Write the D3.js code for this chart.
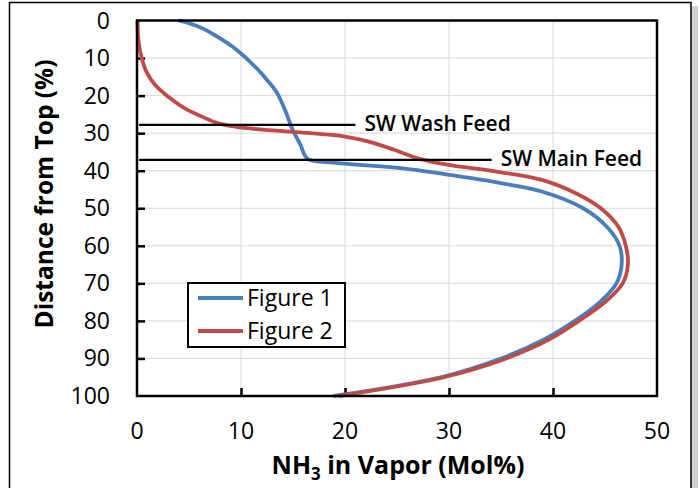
<!DOCTYPE html>
<html>
<head>
<meta charset="utf-8">
<script src="https://cdnjs.cloudflare.com/ajax/libs/d3/7.8.5/d3.min.js"></script>
<style>
  body { margin: 0; background: #fff; }
  text { font-family: "Open Sans", sans-serif; fill: #000; }
</style>
</head>
<body>
<svg id="chart" width="699" height="488"></svg>
<script>
  // NH3 in vapor (mol%) vs distance from top (%)
  const fig1Nh3 = [4.0, 5.2, 6.3, 7.3, 8.3, 9.2, 10.0, 10.8, 11.6, 12.4, 13.4, 14.3, 14.9, 15.7, 16.4, 19.1, 25.4, 30.0, 35.0, 39.0, 42.9, 45.2, 46.4, 46.6, 46.1, 44.5, 42.1, 39.1, 35.0, 29.2, 18.9];
  const fig1Dist = [0, 0.9, 2.1, 3.6, 5.3, 7.0, 8.8, 10.8, 13.0, 15.5, 19, 24.3, 28.7, 33, 36.8, 37.9, 39.3, 41.1, 43.3, 45.6, 50, 55, 60, 65, 70, 75, 80, 85, 90, 95, 100];

  const fig2Nh3 = [0.05, 0.15, 0.45, 0.9, 1.75, 3.0, 4.6, 6.25, 7.85, 9.5, 12.7, 15.7, 20.0, 22.2, 24.8, 27.0, 30.1, 33.5, 39.0, 42.2, 44.6, 46.3, 47.0, 47.2, 46.7, 45.0, 42.5, 39.6, 35.5, 29.5, 19.4];
  const fig2Dist = [0, 5.6, 10, 13.6, 17.2, 20.3, 23.4, 25.6, 27.4, 28.3, 29.2, 29.8, 30.9, 32.2, 34.5, 36.7, 38.5, 39.8, 42.5, 46, 50, 55, 60, 65, 70, 75, 80, 85, 90, 95, 100];

  const seriesNames = ["Figure 1", "Figure 2"];
  const seriesColors = ["#4a7ebb", "#be4b48"];

  const feedNames = ["SW Wash Feed", "SW Main Feed"];
  const feedDist = [27.8, 37.1];
  const feedEnd = [21.0, 34.1];

  const xTicks = [0, 10, 20, 30, 40, 50];
  const yTicks = [0, 10, 20, 30, 40, 50, 60, 70, 80, 90, 100];

  const svg = d3.select('#chart');

  // outer frame with a small shadow on the right
  svg.append('rect').attr('x', 691).attr('y', 6).attr('width', 7).attr('height', 490).attr('fill', '#d0d0d0');
  svg.append('rect').attr('x', 9.5).attr('y', 2.5).attr('width', 681.5).attr('height', 500)
    .attr('fill', '#fff').attr('stroke', '#000').attr('stroke-width', 1.5);

  const x = d3.scaleLinear().domain([0, 50]).range([137, 657]);
  const y = d3.scaleLinear().domain([0, 100]).range([20.5, 396]);

  // grid
  svg.append('g').selectAll('line').data(xTicks.slice(1, -1)).enter().append('line')
    .attr('x1', d => x(d)).attr('x2', d => x(d)).attr('y1', y(0)).attr('y2', y(100))
    .attr('stroke', '#d9d9d9').attr('stroke-width', 1);
  svg.append('g').selectAll('line').data(yTicks.slice(1, -1)).enter().append('line')
    .attr('x1', x(0)).attr('x2', x(50)).attr('y1', d => y(d)).attr('y2', d => y(d))
    .attr('stroke', '#d9d9d9').attr('stroke-width', 1);

  // axes (ticks inside)
  const xAxis = svg.append('g').attr('transform', `translate(0,${y(100)})`)
    .call(d3.axisTop(x).tickValues(xTicks.slice(1, -1)).tickSize(8).tickFormat(''));
  const yAxis = svg.append('g').attr('transform', `translate(${x(0)},0)`)
    .call(d3.axisRight(y).tickValues(yTicks.slice(1, -1)).tickSize(8).tickFormat(''));
  [xAxis, yAxis].forEach(a => {
    a.select('.domain').remove();
    a.selectAll('line').attr('stroke', '#000').attr('stroke-width', 2.5);
  });

  // tick labels
  svg.append('g').selectAll('text').data(xTicks).enter().append('text')
    .attr('x', d => x(d)).attr('y', 439).attr('text-anchor', 'middle')
    .style('font-size', '23px').style('font-weight', 500).text(d => d);
  svg.append('g').selectAll('text').data(yTicks).enter().append('text')
    .attr('x', 110).attr('y', d => y(d) + 8).attr('text-anchor', 'end')
    .style('font-size', '23px').style('font-weight', 500).text(d => d);

  // series
  const line = d3.line().curve(d3.curveCatmullRom.alpha(0.5)).x(d => x(d[0])).y(d => y(d[1]));
  const series = [
    d3.zip(fig1Nh3, fig1Dist),
    d3.zip(fig2Nh3, fig2Dist)
  ];
  svg.append('g').selectAll('path').data(series).enter().append('path')
    .attr('d', line).attr('fill', 'none')
    .attr('stroke', (d, i) => seriesColors[i]).attr('stroke-width', 3.8)
    .attr('stroke-linejoin', 'round');

  // feed markers
  feedNames.forEach((name, i) => {
    svg.append('line').attr('x1', x(0.2)).attr('x2', x(feedEnd[i]))
      .attr('y1', y(feedDist[i])).attr('y2', y(feedDist[i]))
      .attr('stroke', '#000').attr('stroke-width', 2.2);
    svg.append('text').attr('x', x(feedEnd[i]) + 9).attr('y', y(feedDist[i]) + 6)
      .style('font-size', '21px').style('font-weight', 600).text(name);
  });

  // plot border
  svg.append('rect').attr('x', x(0)).attr('y', y(0)).attr('width', x(50) - x(0)).attr('height', y(100) - y(0))
    .attr('fill', 'none').attr('stroke', '#000').attr('stroke-width', 2.5);

  // legend
  const lg = svg.append('g').attr('transform', 'translate(188,283)');
  lg.append('rect').attr('width', 157).attr('height', 64).attr('fill', '#fff')
    .attr('stroke', '#000').attr('stroke-width', 2);
  seriesNames.forEach((n, i) => {
    const yy = 15 + i * 33;
    lg.append('line').attr('x1', 10).attr('x2', 55).attr('y1', yy).attr('y2', yy)
      .attr('stroke', seriesColors[i]).attr('stroke-width', 4);
    lg.append('text').attr('x', 59).attr('y', yy + 8).style('font-size', '23px')
      .style('font-weight', 500).text(n);
  });

  // axis titles
  svg.append('text').attr('transform', 'translate(53,194) rotate(-90)')
    .attr('text-anchor', 'middle').style('font-size', '24.5px').style('font-weight', 700)
    .text('Distance from Top (%)');
  const xt = svg.append('text').attr('x', 398).attr('y', 474).attr('text-anchor', 'middle')
    .style('font-size', '25px').style('font-weight', 700);
  xt.append('tspan').text('NH');
  xt.append('tspan').attr('dy', 6).style('font-size', '17px').text('3');
  xt.append('tspan').attr('dy', -6).text(' in Vapor (Mol%)');
</script>
</body>
</html>
